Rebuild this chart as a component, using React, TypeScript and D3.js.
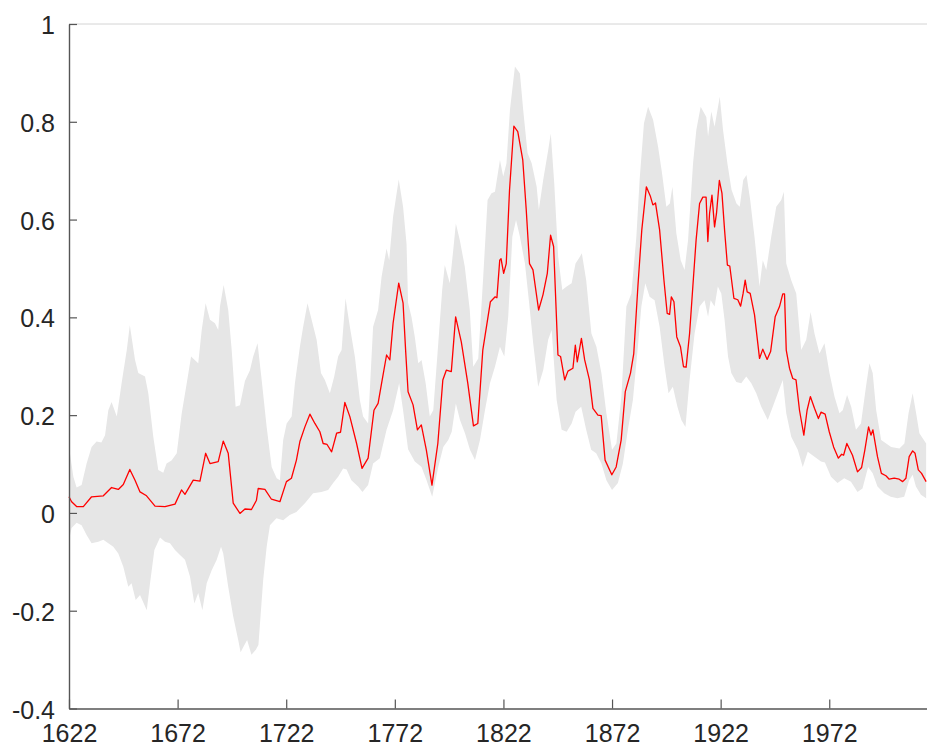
import * as d3 from "d3";
import React, { useRef, useEffect } from "react";

type Pt = [number, number];

// [year, value]
const meanSeries: Pt[] = [
  [1622.0, 0.033], [1623.2, 0.023], [1625.5, 0.013], [1628.6, 0.013], [1632.4, 0.033],
  [1637.8, 0.035], [1641.6, 0.052], [1644.7, 0.048], [1647.0, 0.058], [1650.0, 0.089],
  [1652.4, 0.067], [1654.7, 0.043], [1657.7, 0.035], [1661.6, 0.014], [1666.2, 0.013],
  [1670.8, 0.018], [1673.8, 0.047], [1675.4, 0.038], [1679.2, 0.067], [1682.3, 0.065],
  [1684.9, 0.122], [1686.9, 0.101], [1690.7, 0.105], [1693.0, 0.147], [1695.3, 0.122],
  [1697.6, 0.020], [1700.7, -0.001], [1703.0, 0.008], [1706.0, 0.007], [1708.3, 0.026],
  [1709.1, 0.050], [1712.2, 0.048], [1715.2, 0.028], [1719.1, 0.023], [1722.1, 0.064],
  [1724.4, 0.071], [1726.7, 0.108], [1728.3, 0.146], [1730.6, 0.176], [1732.9, 0.202],
  [1735.2, 0.183], [1737.5, 0.166], [1739.0, 0.142], [1740.8, 0.140], [1742.9, 0.125],
  [1745.2, 0.163], [1747.0, 0.165], [1749.0, 0.226], [1751.3, 0.197], [1754.4, 0.142],
  [1756.9, 0.091], [1759.7, 0.112], [1762.4, 0.210], [1764.3, 0.224], [1765.9, 0.265],
  [1768.2, 0.323], [1769.7, 0.313], [1771.2, 0.388], [1773.8, 0.470], [1775.8, 0.429],
  [1777.0, 0.330], [1778.1, 0.248], [1780.4, 0.221], [1782.4, 0.170], [1784.2, 0.180],
  [1786.5, 0.129], [1789.1, 0.057], [1791.8, 0.142], [1794.1, 0.272], [1795.7, 0.292],
  [1798.0, 0.289], [1800.0, 0.401], [1802.6, 0.350], [1805.6, 0.265], [1808.2, 0.178],
  [1810.2, 0.183], [1812.5, 0.333], [1816.0, 0.432], [1818.2, 0.442], [1819.0, 0.440],
  [1820.3, 0.517], [1820.9, 0.520], [1822.1, 0.490], [1823.3, 0.510], [1824.8, 0.660],
  [1826.8, 0.791], [1828.6, 0.780], [1830.9, 0.722], [1832.5, 0.620], [1834.0, 0.510],
  [1835.6, 0.497], [1838.2, 0.415], [1840.2, 0.446], [1842.2, 0.490], [1843.7, 0.568],
  [1845.1, 0.545], [1847.1, 0.323], [1848.3, 0.320], [1850.2, 0.272], [1851.7, 0.290],
  [1854.0, 0.296], [1855.1, 0.343], [1856.0, 0.309], [1857.9, 0.357], [1859.4, 0.313],
  [1861.6, 0.272], [1863.2, 0.214], [1865.5, 0.200], [1867.0, 0.199], [1868.8, 0.108],
  [1871.9, 0.078], [1873.9, 0.094], [1876.2, 0.149], [1878.1, 0.248], [1880.5, 0.286],
  [1882.0, 0.326], [1883.9, 0.463], [1885.7, 0.579], [1887.8, 0.667], [1889.7, 0.647],
  [1890.8, 0.630], [1892.0, 0.634], [1893.9, 0.579], [1895.9, 0.476], [1897.4, 0.408],
  [1898.5, 0.406], [1899.3, 0.442], [1900.5, 0.432], [1901.8, 0.360], [1903.5, 0.340],
  [1904.9, 0.299], [1906.1, 0.298], [1907.7, 0.367], [1909.2, 0.463], [1910.7, 0.558],
  [1912.3, 0.633], [1913.8, 0.646], [1915.3, 0.646], [1916.1, 0.555], [1916.9, 0.613],
  [1918.0, 0.650], [1919.2, 0.585], [1920.1, 0.613], [1921.4, 0.680], [1922.6, 0.654],
  [1923.8, 0.579], [1925.1, 0.507], [1926.2, 0.505], [1928.1, 0.439], [1929.9, 0.436],
  [1931.2, 0.423], [1932.3, 0.448], [1933.3, 0.476], [1934.2, 0.452], [1935.6, 0.449],
  [1937.6, 0.405], [1939.9, 0.316], [1941.4, 0.335], [1943.4, 0.314], [1945.0, 0.330],
  [1947.1, 0.401], [1949.1, 0.422], [1950.6, 0.448], [1951.4, 0.448], [1952.2, 0.333],
  [1953.7, 0.296], [1955.2, 0.275], [1956.7, 0.272], [1958.3, 0.210], [1960.3, 0.159],
  [1961.8, 0.210], [1963.3, 0.238], [1965.2, 0.214], [1967.0, 0.193], [1968.2, 0.206],
  [1970.1, 0.202], [1972.0, 0.166], [1974.0, 0.135], [1976.2, 0.112], [1977.7, 0.120],
  [1978.6, 0.118], [1980.1, 0.142], [1982.7, 0.118], [1985.0, 0.084], [1986.9, 0.093],
  [1988.4, 0.129], [1990.1, 0.176], [1991.2, 0.159], [1992.1, 0.170], [1994.2, 0.115],
  [1996.0, 0.081], [1998.1, 0.076], [1999.6, 0.069], [2001.9, 0.071], [2004.2, 0.069],
  [2005.8, 0.064], [2007.3, 0.071], [2008.8, 0.115], [2010.4, 0.127], [2011.5, 0.122],
  [2013.0, 0.088], [2014.5, 0.081], [2016.6, 0.064],
];

const upperBound: Pt[] = [
  [1622.0, 0.135], [1624.0, 0.074], [1625.5, 0.052], [1627.8, 0.057], [1630.1, 0.101],
  [1632.4, 0.135], [1634.7, 0.146], [1636.9, 0.144], [1638.6, 0.159], [1640.1, 0.210],
  [1641.6, 0.227], [1644.0, 0.197], [1646.3, 0.268], [1648.6, 0.333], [1650.0, 0.384],
  [1652.4, 0.313], [1653.9, 0.286], [1657.0, 0.279], [1658.5, 0.245], [1660.8, 0.156],
  [1663.1, 0.088], [1665.4, 0.082], [1666.9, 0.101], [1669.2, 0.107], [1671.6, 0.122],
  [1673.9, 0.204], [1676.2, 0.265], [1678.2, 0.320], [1679.9, 0.313], [1681.5, 0.306],
  [1683.1, 0.374], [1684.9, 0.429], [1686.9, 0.395], [1689.2, 0.388], [1690.7, 0.374],
  [1691.5, 0.422], [1693.2, 0.466], [1695.3, 0.415], [1696.9, 0.333], [1698.7, 0.217],
  [1700.7, 0.220], [1703.0, 0.270], [1705.3, 0.292], [1706.8, 0.320], [1708.8, 0.347],
  [1710.7, 0.272], [1713.0, 0.176], [1715.3, 0.094], [1717.6, 0.071], [1719.1, 0.067],
  [1720.6, 0.149], [1722.2, 0.183], [1724.5, 0.197], [1726.0, 0.265], [1728.3, 0.340],
  [1729.8, 0.381], [1731.8, 0.429], [1733.7, 0.395], [1736.0, 0.354], [1738.0, 0.286],
  [1739.8, 0.272], [1742.1, 0.245], [1744.1, 0.279], [1745.9, 0.320], [1747.5, 0.333],
  [1749.3, 0.439], [1751.3, 0.381], [1753.6, 0.320], [1755.9, 0.231], [1757.4, 0.197],
  [1759.7, 0.183], [1762.0, 0.381], [1764.3, 0.415], [1765.9, 0.483], [1768.2, 0.541],
  [1769.4, 0.517], [1771.2, 0.606], [1773.8, 0.682], [1775.8, 0.626], [1777.4, 0.550],
  [1778.1, 0.430], [1779.7, 0.400], [1781.2, 0.360], [1782.8, 0.306], [1784.3, 0.313],
  [1786.2, 0.265], [1788.1, 0.197], [1789.7, 0.210], [1792.0, 0.347], [1793.8, 0.456],
  [1795.0, 0.507], [1797.3, 0.470], [1798.9, 0.538], [1800.1, 0.592], [1801.9, 0.558],
  [1804.2, 0.504], [1806.5, 0.415], [1808.1, 0.299], [1810.4, 0.316], [1812.7, 0.483],
  [1814.7, 0.640], [1816.5, 0.654], [1818.1, 0.657], [1820.4, 0.722], [1821.9, 0.688],
  [1823.4, 0.715], [1825.0, 0.824], [1827.3, 0.913], [1829.6, 0.899], [1831.1, 0.824],
  [1833.1, 0.736], [1835.0, 0.715], [1837.3, 0.667], [1838.3, 0.620], [1840.3, 0.681],
  [1842.6, 0.742], [1843.8, 0.776], [1845.4, 0.674], [1847.2, 0.524], [1849.1, 0.456],
  [1851.1, 0.463], [1853.4, 0.470], [1855.2, 0.510], [1857.2, 0.524], [1858.1, 0.531],
  [1860.1, 0.476], [1862.5, 0.367], [1864.8, 0.340], [1867.1, 0.286], [1869.4, 0.204],
  [1872.0, 0.129], [1874.0, 0.142], [1876.3, 0.238], [1878.6, 0.422], [1880.9, 0.449],
  [1883.2, 0.565], [1884.7, 0.681], [1886.7, 0.797], [1888.6, 0.831], [1890.9, 0.804],
  [1893.2, 0.749], [1895.0, 0.695], [1897.0, 0.626], [1898.6, 0.633], [1899.8, 0.667],
  [1901.6, 0.572], [1903.6, 0.517], [1905.4, 0.497], [1907.0, 0.558], [1909.3, 0.715],
  [1910.8, 0.783], [1912.8, 0.831], [1915.4, 0.810], [1916.2, 0.770], [1917.7, 0.821],
  [1919.2, 0.790], [1921.6, 0.851], [1923.1, 0.783], [1925.1, 0.715], [1927.0, 0.661],
  [1929.3, 0.633], [1930.8, 0.626], [1932.4, 0.681], [1933.9, 0.691], [1935.6, 0.640],
  [1937.7, 0.560], [1939.9, 0.463], [1941.4, 0.517], [1943.0, 0.497], [1945.3, 0.565],
  [1947.6, 0.626], [1949.9, 0.640], [1951.1, 0.657], [1952.2, 0.510], [1954.5, 0.476],
  [1956.8, 0.449], [1959.1, 0.333], [1961.4, 0.354], [1963.4, 0.411], [1965.2, 0.367],
  [1967.5, 0.326], [1969.8, 0.347], [1972.1, 0.286], [1974.4, 0.238], [1976.7, 0.204],
  [1978.2, 0.210], [1980.2, 0.241], [1982.1, 0.217], [1984.3, 0.170], [1986.6, 0.183],
  [1988.9, 0.258], [1990.5, 0.306], [1992.0, 0.286], [1993.6, 0.210], [1995.9, 0.149],
  [1998.2, 0.142], [2000.5, 0.135], [2004.3, 0.132], [2006.6, 0.142], [2008.5, 0.204],
  [2010.4, 0.245], [2012.0, 0.204], [2013.5, 0.163], [2016.6, 0.142],
];

const lowerBound: Pt[] = [
  [1622.0, -0.055], [1623.2, -0.031], [1625.5, -0.020], [1627.8, -0.025], [1630.1, -0.045],
  [1632.4, -0.062], [1635.5, -0.059], [1637.8, -0.055], [1640.1, -0.062], [1642.4, -0.069],
  [1644.7, -0.083], [1647.0, -0.110], [1649.3, -0.151], [1650.8, -0.144], [1652.7, -0.178],
  [1654.7, -0.168], [1657.8, -0.199], [1659.3, -0.144], [1661.3, -0.076], [1663.9, -0.050],
  [1666.2, -0.059], [1668.5, -0.062], [1670.8, -0.076], [1673.1, -0.086], [1675.4, -0.096],
  [1677.7, -0.130], [1679.7, -0.185], [1681.5, -0.164], [1683.4, -0.199], [1685.4, -0.144],
  [1687.7, -0.117], [1690.0, -0.096], [1692.0, -0.069], [1693.0, -0.083], [1695.3, -0.151],
  [1697.6, -0.212], [1699.9, -0.260], [1701.0, -0.285], [1702.5, -0.272], [1704.0, -0.260],
  [1706.0, -0.290], [1708.0, -0.280], [1709.2, -0.270], [1711.4, -0.137], [1713.0, -0.069],
  [1714.5, -0.025], [1717.5, -0.011], [1720.6, -0.015], [1723.6, -0.004], [1726.7, 0.002],
  [1730.6, 0.020], [1734.4, 0.040], [1738.2, 0.043], [1741.3, 0.047], [1743.6, 0.061],
  [1745.9, 0.074], [1748.2, 0.091], [1749.8, 0.089], [1752.0, 0.067], [1755.1, 0.054],
  [1757.1, 0.043], [1759.7, 0.057], [1762.0, 0.101], [1765.1, 0.112], [1768.2, 0.170],
  [1771.2, 0.210], [1774.0, 0.265], [1775.8, 0.210], [1778.1, 0.130], [1781.2, 0.105],
  [1784.3, 0.094], [1786.6, 0.067], [1789.2, 0.033], [1792.0, 0.094], [1794.3, 0.135],
  [1796.6, 0.149], [1798.2, 0.166], [1800.1, 0.224], [1802.0, 0.190], [1804.3, 0.163],
  [1806.6, 0.129], [1808.9, 0.108], [1811.2, 0.149], [1813.5, 0.210], [1815.8, 0.265],
  [1818.1, 0.299], [1820.4, 0.340], [1822.4, 0.320], [1824.2, 0.401], [1826.1, 0.565],
  [1827.8, 0.599], [1829.6, 0.565], [1831.9, 0.510], [1833.7, 0.435], [1835.7, 0.347],
  [1838.0, 0.258], [1840.3, 0.292], [1842.6, 0.354], [1844.2, 0.374], [1846.5, 0.231],
  [1848.8, 0.170], [1851.1, 0.166], [1853.4, 0.183], [1855.2, 0.207], [1857.8, 0.217],
  [1860.1, 0.170], [1862.4, 0.129], [1864.7, 0.122], [1867.1, 0.101], [1869.4, 0.067],
  [1872.0, 0.047], [1874.7, 0.061], [1877.0, 0.101], [1879.3, 0.170], [1881.6, 0.231],
  [1883.9, 0.340], [1885.5, 0.422], [1887.3, 0.470], [1889.3, 0.442], [1891.6, 0.435],
  [1893.9, 0.381], [1896.2, 0.299], [1898.0, 0.245], [1900.0, 0.258], [1902.1, 0.217],
  [1903.9, 0.190], [1905.8, 0.176], [1907.7, 0.272], [1910.0, 0.367], [1912.3, 0.422],
  [1914.6, 0.435], [1916.2, 0.401], [1917.4, 0.435], [1919.2, 0.422], [1920.7, 0.463],
  [1922.3, 0.449], [1923.8, 0.395], [1925.4, 0.320], [1926.9, 0.286], [1929.2, 0.268],
  [1931.5, 0.265], [1933.8, 0.279], [1936.1, 0.265], [1938.4, 0.245], [1940.7, 0.217],
  [1943.7, 0.190], [1946.0, 0.217], [1948.3, 0.245], [1950.6, 0.272], [1952.2, 0.204],
  [1954.5, 0.156], [1957.5, 0.129], [1959.8, 0.094], [1962.1, 0.125], [1965.2, 0.115],
  [1968.2, 0.105], [1970.0, 0.103], [1972.8, 0.074], [1975.8, 0.061], [1978.9, 0.071],
  [1982.0, 0.064], [1985.0, 0.043], [1987.3, 0.050], [1989.9, 0.094], [1992.0, 0.081],
  [1994.2, 0.054], [1997.3, 0.040], [2000.3, 0.033], [2003.4, 0.030], [2006.5, 0.033],
  [2008.8, 0.067], [2010.4, 0.078], [2011.9, 0.054], [2014.2, 0.037], [2016.6, 0.030],
];

const xTicks = [1622, 1672, 1722, 1772, 1822, 1872, 1922, 1972];
const yTicks = [-0.4, -0.2, 0, 0.2, 0.4, 0.6, 0.8, 1];
const yTickLabels = ["-0.4", "-0.2", "0", "0.2", "0.4", "0.6", "0.8", "1"];

const App: React.FC = () => {
  const svgRef = useRef<SVGSVGElement>(null);

  useEffect(() => {
    if (!svgRef.current) return;
    const svg = d3.select(svgRef.current);
    svg.selectAll("*").remove();

    const x = d3.scaleLinear().domain([1622, 2017]).range([69, 927]);
    const y = d3.scaleLinear().domain([-0.4, 1]).range([708.5, 24]);

    const line = d3
      .line<Pt>()
      .x((d) => x(d[0]))
      .y((d) => y(d[1]));

    // shaded range: upper edge forward, lower edge back
    const band = [...upperBound, ...lowerBound.slice().reverse()];
    svg
      .append("path")
      .datum(band)
      .attr("fill", "#e6e6e6")
      .attr("stroke", "none")
      .attr("d", (d) => line(d) + "Z");

    svg
      .append("path")
      .datum(meanSeries)
      .attr("fill", "none")
      .attr("stroke", "#ff0000")
      .attr("stroke-width", 1.3)
      .attr("stroke-linejoin", "round")
      .attr("d", line);

    // thin box line along the top
    svg
      .append("line")
      .attr("x1", x(1622))
      .attr("x2", x(2017))
      .attr("y1", y(1))
      .attr("y2", y(1))
      .attr("stroke", "#d4d4d4")
      .attr("stroke-width", 1);

    const styleAxis = (g: d3.Selection<SVGGElement, unknown, null, undefined>) => {
      g.attr("font-family", "'Liberation Sans', Arial, sans-serif").attr("font-size", 25);
      g.select(".domain").attr("stroke", "#555").attr("stroke-width", 1.4);
      g.selectAll(".tick line").attr("stroke", "#555").attr("stroke-width", 1.2);
      g.selectAll(".tick text").attr("fill", "#262626");
    };

    svg
      .append("g")
      .attr("transform", `translate(0, ${y(-0.4)})`)
      .call(
        d3
          .axisBottom(x)
          .tickValues(xTicks)
          .tickFormat((d) => String(d))
          .tickSizeInner(-9)
          .tickSizeOuter(0)
          .tickPadding(16)
      )
      .call(styleAxis);

    svg
      .append("g")
      .attr("transform", `translate(${x(1622)}, 0)`)
      .call(
        d3
          .axisLeft(y)
          .tickValues(yTicks)
          .tickFormat((d, i) => yTickLabels[i])
          .tickSizeInner(-8)
          .tickSizeOuter(0)
          .tickPadding(14)
      )
      .call(styleAxis)
      .selectAll(".tick text")
      .attr("dy", "0.38em");
  }, []);

  return (
    <svg
      ref={svgRef}
      width={927}
      height={749}
      style={{ position: "absolute", left: 0, top: 0, background: "#fff" }}
    />
  );
};

export default App;
